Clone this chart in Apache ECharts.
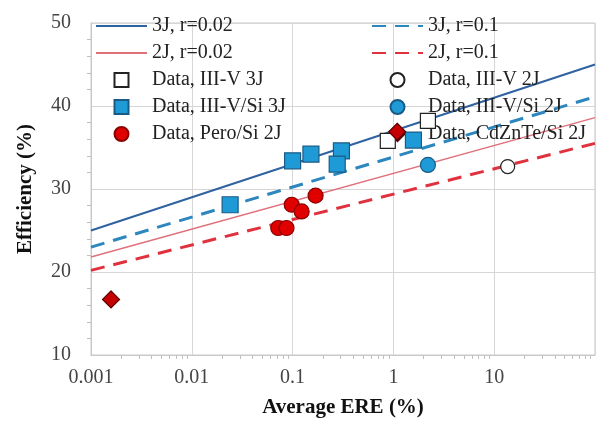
<!DOCTYPE html>
<html>
<head>
<meta charset="utf-8">
<script src="https://cdn.jsdelivr.net/npm/echarts@6/dist/echarts.min.js"></script>
<style>html,body{margin:0;padding:0;background:#fff}#c{width:602px;height:425px}</style>
</head>
<body>
<div id="c"></div>
<script>
// Model lines (x endpoints across the log axis)
var lineEre = [0.001, 100];
var eff3J_r002 = [25.0, 45.0];
var eff3J_r01 = [23.0, 41.1];
var eff2J_r002 = [21.8, 38.6];
var eff2J_r01 = [20.2, 35.5];

// Data points
var iiiv3J_ere = [0.88, 2.2];
var iiiv3J_eff = [35.8, 38.2];
var iiiv2J_ere = [13.6];
var iiiv2J_eff = [32.7];
var iiivSi3J_ere = [0.024, 0.1, 0.152, 0.305, 0.277, 1.58];
var iiivSi3J_eff = [28.1, 33.4, 34.2, 34.6, 33.0, 35.9];
var iiivSi2J_ere = [2.2];
var iiivSi2J_eff = [32.9];
var peroSi2J_ere = [0.072, 0.087, 0.098, 0.123, 0.169];
var peroSi2J_eff = [25.3, 25.3, 28.1, 27.3, 29.2];
var cdzntSi2J_ere = [0.00158, 1.09];
var cdzntSi2J_eff = [16.7, 36.9];

var xTickLabels = ['0.001', '0.01', '0.1', '1', '10'];
var yTickLabels = [10, 20, 30, 40, 50];

function pairs(xs, ys) { return xs.map(function (x, i) { return [x, ys[i]]; }); }

var FONT = 'Liberation Serif';
var SQUARE = 'path://M0,0L10,0L10,10L0,10Z';
var DIAMOND = 'path://M5,0L10,5L5,10L0,5Z';
var chart = echarts.init(document.getElementById('c'), null, {renderer: 'canvas'});

function lineSeries(name, ys, color, width, dash) {
  return {
    name: name, type: 'line', data: pairs(lineEre, ys), symbol: 'none', showSymbol: false,
    lineStyle: {color: color, width: width, type: dash}, itemStyle: {color: color}, z: 2, silent: true
  };
}
function scatterSeries(name, xs, ys, symbol, size, fill, border, bw) {
  return {
    name: name, type: 'scatter', data: pairs(xs, ys), symbol: symbol, symbolSize: size,
    symbolKeepAspect: true,
    itemStyle: {color: fill, borderColor: border, borderWidth: bw, opacity: 1}, z: 5
  };
}
function lineItem(name) { return {name: name, itemStyle: {color: 'rgba(0,0,0,0)', borderWidth: 0, opacity: 0}}; }
function markItem(name, icon) { return {name: name, icon: icon, symbolKeepAspect: true}; }

var legendText = {fontFamily: FONT, fontSize: 20, color: '#222'};

chart.setOption({
  animation: false,
  backgroundColor: '#fff',
  grid: {left: 91, right: 7, top: 23, bottom: 70, show: true, borderColor: '#c8c8c8', borderWidth: 1},
  legend: [
    {
      orient: 'vertical', left: 90, top: 11, itemWidth: 51, itemHeight: 14, itemGap: 7,
      symbolKeepAspect: true,
      textStyle: legendText,
      data: [lineItem('3J, r=0.02'), lineItem('2J, r=0.02'), markItem('Data, III-V 3J', SQUARE),
             markItem('Data, III-V/Si 3J', SQUARE), 'Data, Pero/Si 2J']
    },
    {
      orient: 'vertical', left: 366, top: 11, itemWidth: 51, itemHeight: 14, itemGap: 7,
      symbolKeepAspect: true,
      textStyle: legendText,
      data: [lineItem('3J, r=0.1'), lineItem('2J, r=0.1'), 'Data, III-V 2J', 'Data, III-V/Si 2J',
             markItem('Data, CdZnTe/Si 2J', DIAMOND)]
    }
  ],
  xAxis: {
    type: 'log', logBase: 10, min: 0.001, max: 100,
    name: 'Average ERE (%)', nameLocation: 'middle', nameGap: 42,
    nameTextStyle: {fontFamily: FONT, fontSize: 21, fontWeight: 'bold', color: '#111'},
    axisLine: {show: true, lineStyle: {color: '#c8c8c8'}},
    axisTick: {show: false},
    minorTick: {show: true, splitNumber: 9, length: 4, lineStyle: {color: '#c0c0c0'}},
    axisLabel: {
      fontFamily: FONT, fontSize: 20, color: '#444', margin: 13,
      formatter: function (v) {
        var e = Math.round(Math.log10(v));
        return (e >= -3 && e <= 1) ? xTickLabels[e + 3] : '';
      }
    },
    splitLine: {show: true, lineStyle: {color: '#d6d6d6', width: 1}}
  },
  yAxis: {
    type: 'value', min: 10, max: 50, interval: 10,
    name: 'Efficiency (%)', nameLocation: 'middle', nameGap: 55, nameRotate: 90,
    nameTextStyle: {fontFamily: FONT, fontSize: 21, fontWeight: 'bold', color: '#111'},
    axisLine: {show: true, lineStyle: {color: '#c8c8c8'}},
    axisTick: {show: false},
    minorTick: {show: true, splitNumber: 5, length: 4, lineStyle: {color: '#c0c0c0'}},
    axisLabel: {
      fontFamily: FONT, fontSize: 20, color: '#444', margin: 20,
      formatter: function (v) { return yTickLabels.indexOf(v) >= 0 ? String(v) : ''; }
    },
    splitLine: {show: true, lineStyle: {color: '#d6d6d6', width: 1}}
  },
  series: [
    lineSeries('3J, r=0.02', eff3J_r002, '#2f62a0', 2, 'solid'),
    lineSeries('3J, r=0.1', eff3J_r01, '#2e86bf', 3, [14, 9]),
    lineSeries('2J, r=0.02', eff2J_r002, '#e0707a', 1.5, 'solid'),
    lineSeries('2J, r=0.1', eff2J_r01, '#e0323e', 3, [14, 9]),
    scatterSeries('Data, III-V 3J', iiiv3J_ere, iiiv3J_eff, SQUARE, 15, '#ffffff', '#222', 1.2),
    scatterSeries('Data, III-V 2J', iiiv2J_ere, iiiv2J_eff, 'circle', 14, '#ffffff', '#222', 1.2),
    scatterSeries('Data, III-V/Si 3J', iiivSi3J_ere, iiivSi3J_eff, SQUARE, 16, '#1e9bd7', '#1a5b85', 1.2),
    scatterSeries('Data, III-V/Si 2J', iiivSi2J_ere, iiivSi2J_eff, 'circle', 15, '#1e9bd7', '#1a5b85', 1.2),
    scatterSeries('Data, Pero/Si 2J', peroSi2J_ere, peroSi2J_eff, 'circle', 15, '#e00000', '#8a0000', 1.2),
    scatterSeries('Data, CdZnTe/Si 2J', cdzntSi2J_ere, cdzntSi2J_eff, DIAMOND, 17, '#c40000', '#5a0000', 1.2)
  ]
});
</script>
</body>
</html>
